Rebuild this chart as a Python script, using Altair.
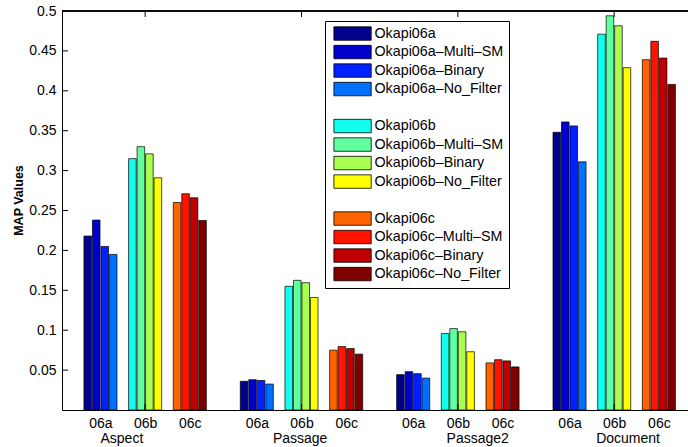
import altair as alt
import pandas as pd

categories = ["Aspect", "Passage", "Passage2", "Document"]
subgroups = ["06a", "06b", "06c"]
variants = ["", "–Multi–SM", "–Binary", "–No_Filter"]

# values per category: 06a (4 variants), 06b (4), 06c (4)
aspect_vals = [0.218, 0.238, 0.205, 0.195, 0.315, 0.330, 0.321, 0.291, 0.260, 0.271, 0.266, 0.2375]
passage_vals = [0.036, 0.038, 0.037, 0.0325, 0.155, 0.1625, 0.1595, 0.141, 0.075, 0.0795, 0.077, 0.070]
passage2_vals = [0.0443, 0.048, 0.0455, 0.040, 0.096, 0.102, 0.098, 0.073, 0.059, 0.063, 0.0615, 0.054]
document_vals = [0.348, 0.361, 0.356, 0.311, 0.471, 0.494, 0.4815, 0.429, 0.439, 0.462, 0.441, 0.408]
all_vals = [aspect_vals, passage_vals, passage2_vals, document_vals]

colors_06a = ["#00008c", "#0000cc", "#0020ff", "#0070ff"]
colors_06b = ["#10ffef", "#60ffa0", "#a8ff50", "#ffff00"]
colors_06c = ["#ff6400", "#ff1400", "#c00000", "#800000"]
sub_colors = [colors_06a, colors_06b, colors_06c]

y_ticks = [0.05, 0.1, 0.15, 0.2, 0.25, 0.3, 0.35, 0.4, 0.45, 0.5]
label_shift = [-0.52, -0.03, 0.445, 0.31]

W, H = 626, 399
GROUP_GAP = 3.5
BAR_PITCH = 0.19
BAR_HALF = 0.085
Y_TITLE = "MAP Values"

rows = []
for ci, cat in enumerate(categories):
    for si, sub in enumerate(subgroups):
        for vi, var in enumerate(variants):
            c = ci * GROUP_GAP + si + (vi - 1.5) * BAR_PITCH
            rows.append({
                "series": "Okapi" + sub + var,
                "value": all_vals[ci][si * 4 + vi],
                "x0": c - BAR_HALF,
                "x1": c + BAR_HALF,
            })
bars_df = pd.DataFrame(rows)

# legend domain with blank spacer entries
domain, crange, srange = [], [], []
blanks = [" ", "  "]
for si, sub in enumerate(subgroups):
    for vi, var in enumerate(variants):
        domain.append("Okapi" + sub + var)
        crange.append(sub_colors[si][vi])
        srange.append("#000000")
    if si < 2:
        domain.append(blanks[si])
        crange.append("#ffffff")
        srange.append("#ffffff")

positions = [ci * GROUP_GAP + si for ci in range(len(categories)) for si in range(len(subgroups))]
sub_list = "[" + ",".join("'" + s + "'" for s in subgroups) + "]"
label_expr = sub_list + "[(round(datum.value*2) % 7) / 2]"

centers_df = pd.DataFrame({
    "c": [ci * GROUP_GAP + 1 for ci in range(len(categories))],
    "lc": [ci * GROUP_GAP + 1 + label_shift[ci] for ci in range(len(categories))],
    "name": categories,
})
yt_df = pd.DataFrame({"t": y_ticks[:-1]})

FONT = "Liberation Sans"
xscale = alt.Scale(domain=[-0.749, 13.04], nice=False, zero=False)
yscale = alt.Scale(domain=[0, 0.5], nice=False, zero=False)

legend = alt.Legend(
    orient="none", legendX=263, legendY=10, title=None,
    symbolType="M-5,-1.8H5V1.8H-5Z", symbolSize=55.7, symbolOffset=15,
    symbolStrokeWidth=0.8, labelOffset=14.8, rowPadding=0.5, padding=5.4,
    strokeColor="#000000", fillColor="#ffffff", labelFont=FONT, labelFontSize=14.3,
    labelColor="#000000", labelLimit=0,
)

y_axis = alt.Axis(
    values=y_ticks, format=".2~f", tickSize=0, labelPadding=6, grid=False,
    title=Y_TITLE, titleFont=FONT, titleFontWeight="bold", titleFontSize=12.5,
    titlePadding=3, titleColor="#000000", titleY=189, domainColor="#000000",
    labelFont=FONT, labelFontSize=14, labelColor="#000000")

bars = alt.Chart(bars_df).mark_bar(strokeWidth=0.7, orient="vertical").encode(
    x=alt.X("x0:Q", scale=xscale, axis=alt.Axis(
        values=positions, labelExpr=label_expr, tickSize=0, grid=False, title=None,
        domainColor="#000000", labelPadding=6.5, labelFont=FONT, labelFontSize=14,
        labelColor="#000000", labelOverlap=False)),
    x2="x1:Q",
    y=alt.Y("value:Q", scale=yscale, axis=y_axis),
    y2=alt.datum(0),
    color=alt.Color("series:N", scale=alt.Scale(domain=domain, range=crange), legend=legend),
    stroke=alt.Stroke("series:N", scale=alt.Scale(domain=domain, range=srange), legend=legend),
)

ytick_rules = alt.Chart(yt_df).mark_rule(color="#000000", strokeWidth=1).encode(
    y=alt.Y("t:Q", axis=y_axis), x=alt.value(0), x2=alt.value(6))
top_ticks = alt.Chart(centers_df).mark_rule(color="#000000", strokeWidth=1).encode(
    x=alt.X("c:Q", title=None), y=alt.value(0), y2=alt.value(6))
bottom_ticks = alt.Chart(centers_df).mark_rule(color="#000000", strokeWidth=1).encode(
    x=alt.X("c:Q", title=None), y=alt.value(H), y2=alt.value(H - 6))
top_border = alt.Chart(centers_df).mark_rule(color="#000000", strokeWidth=1).encode(
    x=alt.value(0), x2=alt.value(W), y=alt.value(0))
cat_text = alt.Chart(centers_df).mark_text(
    font=FONT, fontSize=14, color="#000000", baseline="alphabetic", align="center").encode(
    x=alt.X("lc:Q", title=None), y=alt.value(H + 32.5), text="name:N")

chart = alt.layer(bars, ytick_rules, top_ticks, bottom_ticks, top_border, cat_text).properties(
    width=W, height=H,
    padding={"left": 62, "top": 11, "right": 0, "bottom": 37},
    autosize=alt.AutoSizeParams(type="none"),
    background="#ffffff",
).configure_view(stroke=None).configure_axisY(
    titleFontSize=12.5, titleFontWeight="bold", titleFont=FONT, titleColor="#000000")

chart.save("out.html", embed_options={"renderer": "svg", "actions": False})
